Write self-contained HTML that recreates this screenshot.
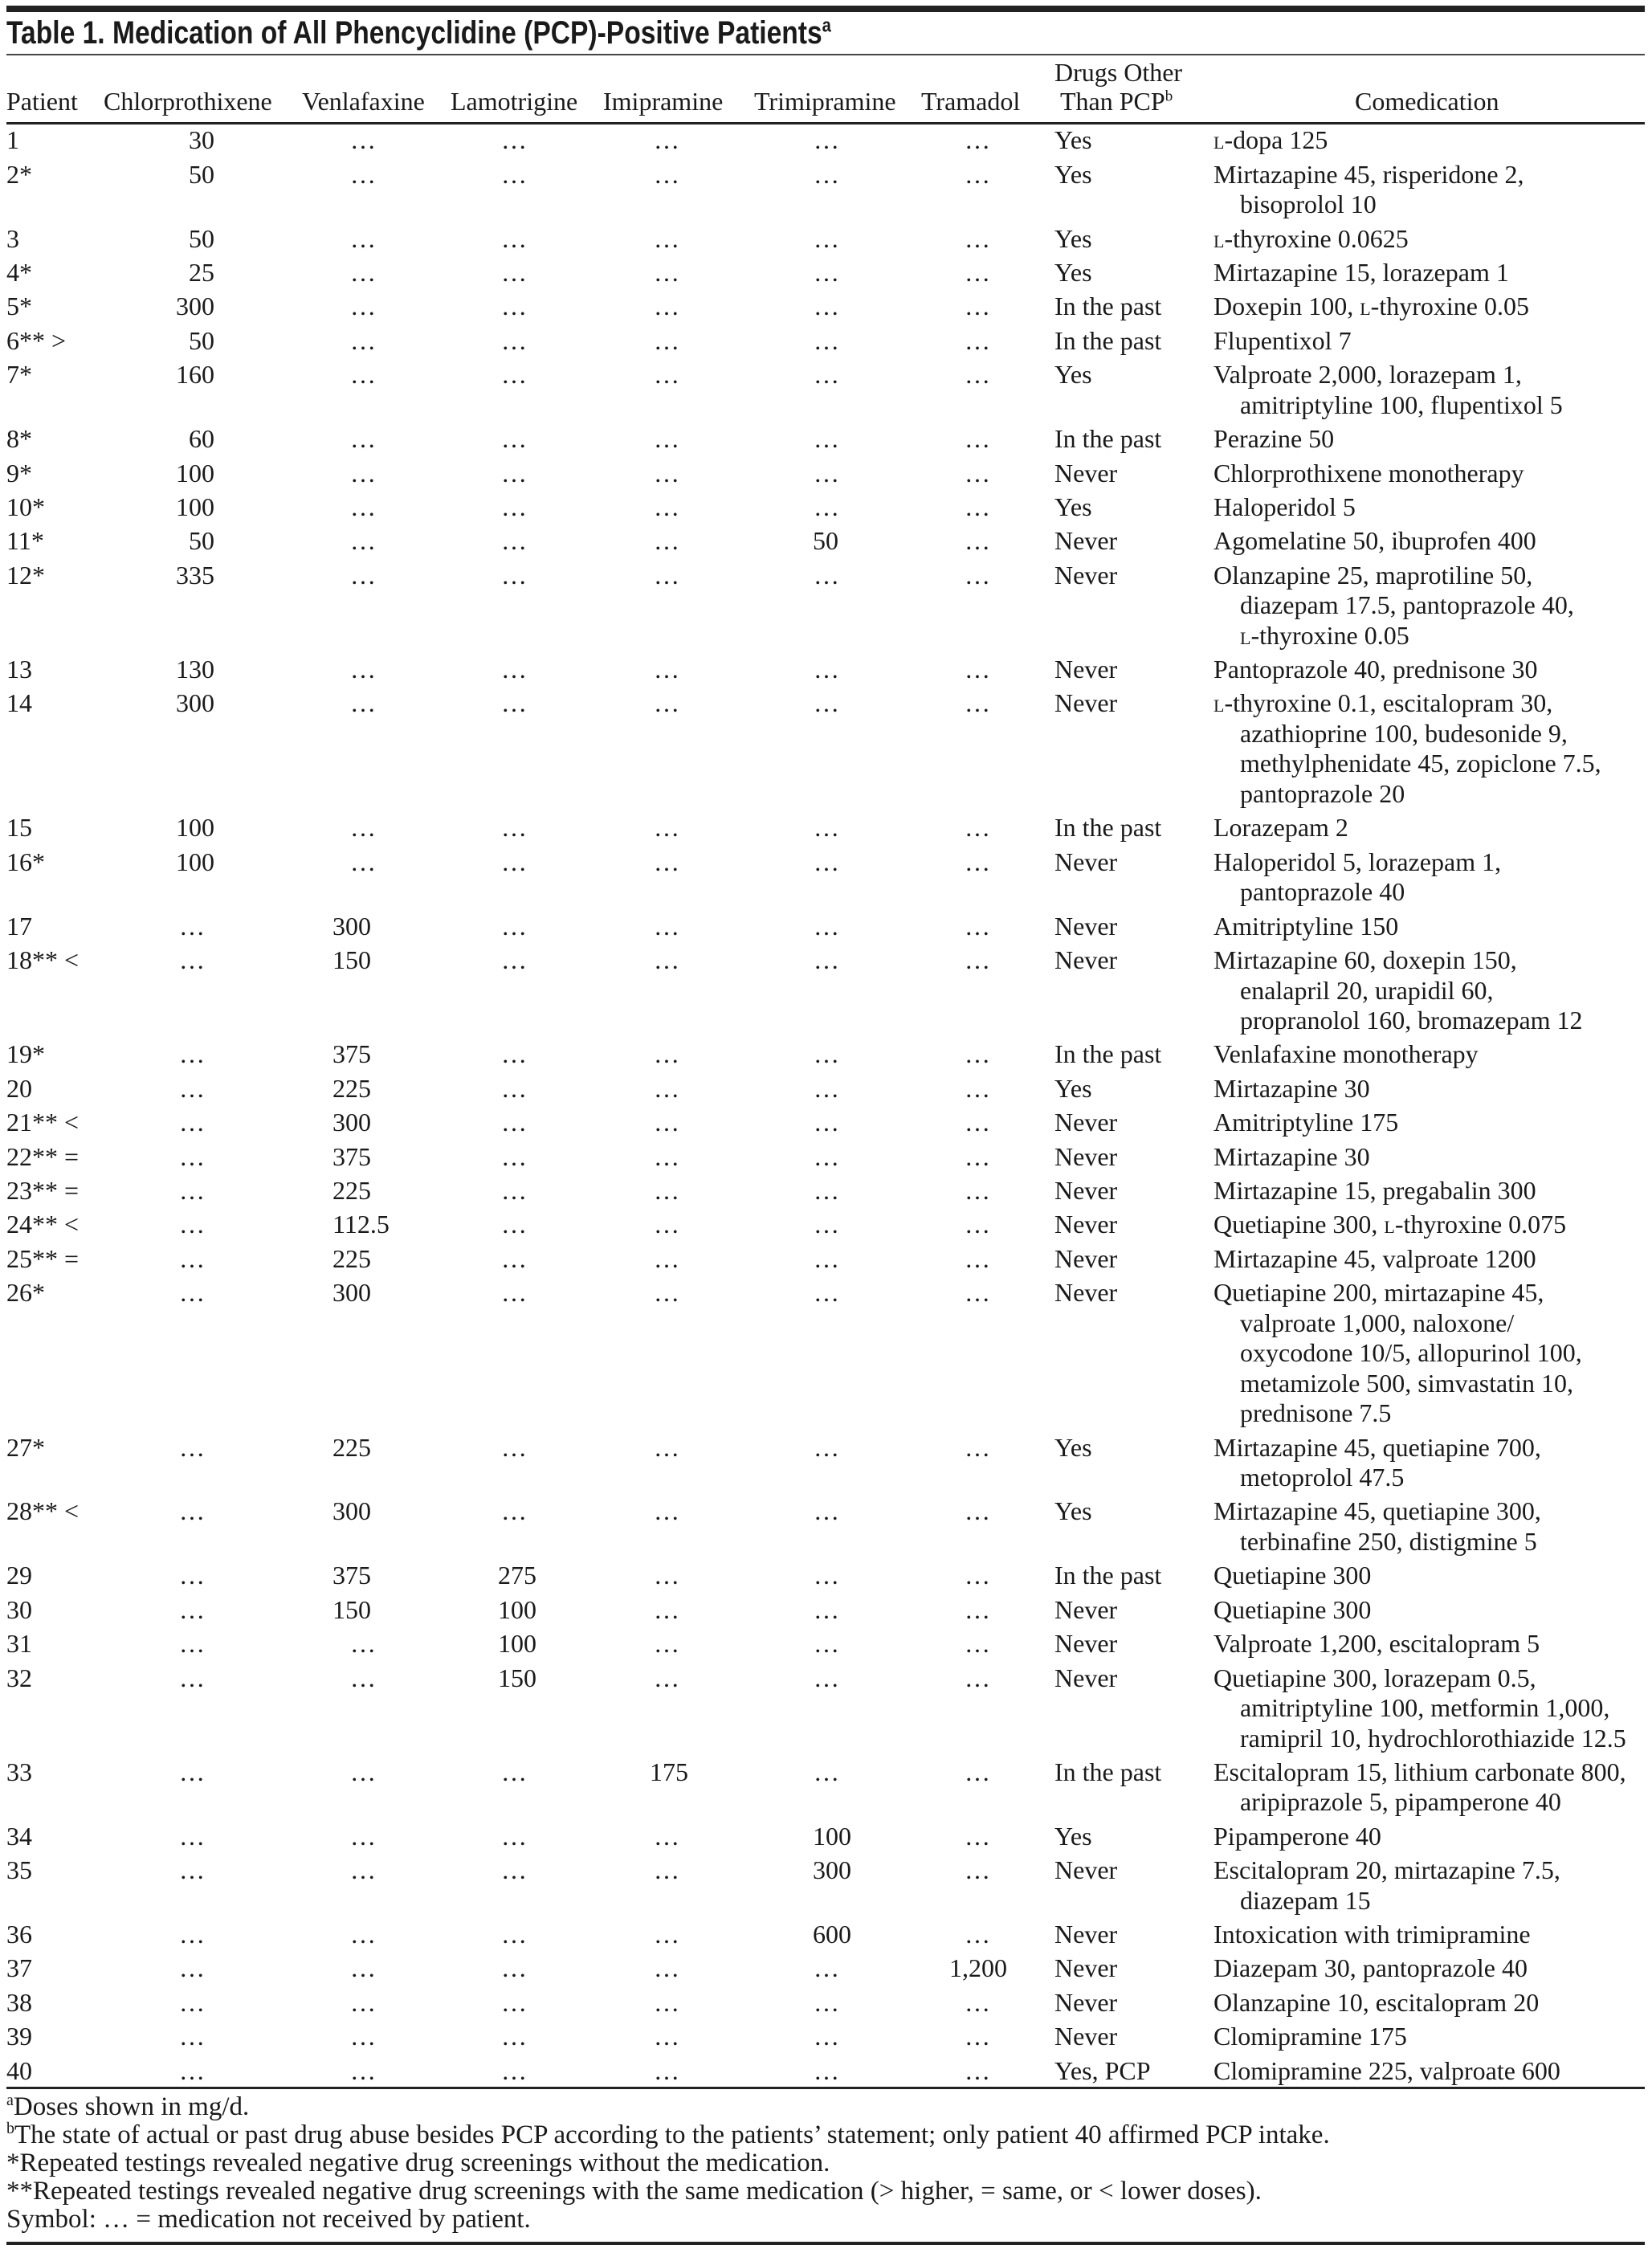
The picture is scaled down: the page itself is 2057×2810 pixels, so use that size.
<!DOCTYPE html>
<html><head><meta charset="utf-8">
<style>
html,body{margin:0;padding:0;background:#fff;}
body{width:2057px;height:2810px;position:relative;overflow:hidden;font-family:"Liberation Serif",serif;color:#1a1a1a;font-size:32px;line-height:37.5px;}
.rule{position:absolute;left:8px;width:2040px;background:#222;}
.title{position:absolute;left:8px;top:21px;font-family:"Liberation Sans",sans-serif;font-weight:bold;font-size:40px;line-height:40px;white-space:nowrap;transform:scaleX(0.84);transform-origin:0 0;}
.title sup{font-size:24px;line-height:0;}
.h{position:absolute;white-space:nowrap;}
#body{position:absolute;left:0;top:156.4px;width:2057px;}
.r{position:relative;padding-bottom:4.9px;}
.r span{position:absolute;top:0;white-space:nowrap;}
.p{left:8px}
.a{left:167px;width:100px;text-align:right}
.ae{left:223px}
.b{left:414px}.be{left:436px}
.c{left:620px}.ce{left:624px}
.d{left:809px}.de{left:814px}
.e{left:1012px}.ee{left:1013px}
.f{left:1154px;width:100px;text-align:right}.fe{left:1201px}
.g{left:1313px}
.m{margin-left:1511px;white-space:nowrap;}
.m div{padding-left:33px}
.sc{font-variant:small-caps}
.fn{position:absolute;left:8px;top:2606px;font-size:33px;line-height:35px;white-space:nowrap;}
.fn sup{font-size:20px;line-height:0;}
</style></head><body>
<div class="rule" style="top:7px;height:8px"></div>
<div class="title">Table 1. Medication of All Phencyclidine (PCP)-Positive Patients<sup>a</sup></div>
<div class="rule" style="top:67px;height:2px;background:#444"></div>
<div class="h" style="left:8px;top:108.4px">Patient</div>
<div class="h" style="left:129px;top:108.4px">Chlorprothixene</div>
<div class="h" style="left:376px;top:108.4px">Venlafaxine</div>
<div class="h" style="left:561px;top:108.4px">Lamotrigine</div>
<div class="h" style="left:751px;top:108.4px">Imipramine</div>
<div class="h" style="left:939px;top:108.4px">Trimipramine</div>
<div class="h" style="left:1147px;top:108.4px">Tramadol</div>
<div class="h" style="left:1313px;top:72.4px">Drugs Other</div>
<div class="h" style="left:1320px;top:108.4px">Than PCP<sup style="font-size:19px;line-height:0">b</sup></div>
<div class="h" style="left:1687px;top:108.4px">Comedication</div>
<div class="rule" style="top:152px;height:3px"></div>
<div id="body">
<div class="r"><span class="p">1</span><span class="a">30</span><span class="be">…</span><span class="ce">…</span><span class="de">…</span><span class="ee">…</span><span class="fe">…</span><span class="g">Yes</span><div class="m"><span class="sc" style="position:static">l</span>-dopa 125</div></div>
<div class="r"><span class="p">2*</span><span class="a">50</span><span class="be">…</span><span class="ce">…</span><span class="de">…</span><span class="ee">…</span><span class="fe">…</span><span class="g">Yes</span><div class="m">Mirtazapine 45, risperidone 2,<div>bisoprolol 10</div></div></div>
<div class="r"><span class="p">3</span><span class="a">50</span><span class="be">…</span><span class="ce">…</span><span class="de">…</span><span class="ee">…</span><span class="fe">…</span><span class="g">Yes</span><div class="m"><span class="sc" style="position:static">l</span>-thyroxine 0.0625</div></div>
<div class="r"><span class="p">4*</span><span class="a">25</span><span class="be">…</span><span class="ce">…</span><span class="de">…</span><span class="ee">…</span><span class="fe">…</span><span class="g">Yes</span><div class="m">Mirtazapine 15, lorazepam 1</div></div>
<div class="r"><span class="p">5*</span><span class="a">300</span><span class="be">…</span><span class="ce">…</span><span class="de">…</span><span class="ee">…</span><span class="fe">…</span><span class="g">In the past</span><div class="m">Doxepin 100, <span class="sc" style="position:static">l</span>-thyroxine 0.05</div></div>
<div class="r"><span class="p">6** &gt;</span><span class="a">50</span><span class="be">…</span><span class="ce">…</span><span class="de">…</span><span class="ee">…</span><span class="fe">…</span><span class="g">In the past</span><div class="m">Flupentixol 7</div></div>
<div class="r"><span class="p">7*</span><span class="a">160</span><span class="be">…</span><span class="ce">…</span><span class="de">…</span><span class="ee">…</span><span class="fe">…</span><span class="g">Yes</span><div class="m">Valproate 2,000, lorazepam 1,<div>amitriptyline 100, flupentixol 5</div></div></div>
<div class="r"><span class="p">8*</span><span class="a">60</span><span class="be">…</span><span class="ce">…</span><span class="de">…</span><span class="ee">…</span><span class="fe">…</span><span class="g">In the past</span><div class="m">Perazine 50</div></div>
<div class="r"><span class="p">9*</span><span class="a">100</span><span class="be">…</span><span class="ce">…</span><span class="de">…</span><span class="ee">…</span><span class="fe">…</span><span class="g">Never</span><div class="m">Chlorprothixene monotherapy</div></div>
<div class="r"><span class="p">10*</span><span class="a">100</span><span class="be">…</span><span class="ce">…</span><span class="de">…</span><span class="ee">…</span><span class="fe">…</span><span class="g">Yes</span><div class="m">Haloperidol 5</div></div>
<div class="r"><span class="p">11*</span><span class="a">50</span><span class="be">…</span><span class="ce">…</span><span class="de">…</span><span class="e">50</span><span class="fe">…</span><span class="g">Never</span><div class="m">Agomelatine 50, ibuprofen 400</div></div>
<div class="r"><span class="p">12*</span><span class="a">335</span><span class="be">…</span><span class="ce">…</span><span class="de">…</span><span class="ee">…</span><span class="fe">…</span><span class="g">Never</span><div class="m">Olanzapine 25, maprotiline 50,<div>diazepam 17.5, pantoprazole 40,</div><div><span class="sc" style="position:static">l</span>-thyroxine 0.05</div></div></div>
<div class="r"><span class="p">13</span><span class="a">130</span><span class="be">…</span><span class="ce">…</span><span class="de">…</span><span class="ee">…</span><span class="fe">…</span><span class="g">Never</span><div class="m">Pantoprazole 40, prednisone 30</div></div>
<div class="r"><span class="p">14</span><span class="a">300</span><span class="be">…</span><span class="ce">…</span><span class="de">…</span><span class="ee">…</span><span class="fe">…</span><span class="g">Never</span><div class="m"><span class="sc" style="position:static">l</span>-thyroxine 0.1, escitalopram 30,<div>azathioprine 100, budesonide 9,</div><div>methylphenidate 45, zopiclone 7.5,</div><div>pantoprazole 20</div></div></div>
<div class="r"><span class="p">15</span><span class="a">100</span><span class="be">…</span><span class="ce">…</span><span class="de">…</span><span class="ee">…</span><span class="fe">…</span><span class="g">In the past</span><div class="m">Lorazepam 2</div></div>
<div class="r"><span class="p">16*</span><span class="a">100</span><span class="be">…</span><span class="ce">…</span><span class="de">…</span><span class="ee">…</span><span class="fe">…</span><span class="g">Never</span><div class="m">Haloperidol 5, lorazepam 1,<div>pantoprazole 40</div></div></div>
<div class="r"><span class="p">17</span><span class="ae">…</span><span class="b">300</span><span class="ce">…</span><span class="de">…</span><span class="ee">…</span><span class="fe">…</span><span class="g">Never</span><div class="m">Amitriptyline 150</div></div>
<div class="r"><span class="p">18** &lt;</span><span class="ae">…</span><span class="b">150</span><span class="ce">…</span><span class="de">…</span><span class="ee">…</span><span class="fe">…</span><span class="g">Never</span><div class="m">Mirtazapine 60, doxepin 150,<div>enalapril 20, urapidil 60,</div><div>propranolol 160, bromazepam 12</div></div></div>
<div class="r"><span class="p">19*</span><span class="ae">…</span><span class="b">375</span><span class="ce">…</span><span class="de">…</span><span class="ee">…</span><span class="fe">…</span><span class="g">In the past</span><div class="m">Venlafaxine monotherapy</div></div>
<div class="r"><span class="p">20</span><span class="ae">…</span><span class="b">225</span><span class="ce">…</span><span class="de">…</span><span class="ee">…</span><span class="fe">…</span><span class="g">Yes</span><div class="m">Mirtazapine 30</div></div>
<div class="r"><span class="p">21** &lt;</span><span class="ae">…</span><span class="b">300</span><span class="ce">…</span><span class="de">…</span><span class="ee">…</span><span class="fe">…</span><span class="g">Never</span><div class="m">Amitriptyline 175</div></div>
<div class="r"><span class="p">22** =</span><span class="ae">…</span><span class="b">375</span><span class="ce">…</span><span class="de">…</span><span class="ee">…</span><span class="fe">…</span><span class="g">Never</span><div class="m">Mirtazapine 30</div></div>
<div class="r"><span class="p">23** =</span><span class="ae">…</span><span class="b">225</span><span class="ce">…</span><span class="de">…</span><span class="ee">…</span><span class="fe">…</span><span class="g">Never</span><div class="m">Mirtazapine 15, pregabalin 300</div></div>
<div class="r"><span class="p">24** &lt;</span><span class="ae">…</span><span class="b">112.5</span><span class="ce">…</span><span class="de">…</span><span class="ee">…</span><span class="fe">…</span><span class="g">Never</span><div class="m">Quetiapine 300, <span class="sc" style="position:static">l</span>-thyroxine 0.075</div></div>
<div class="r"><span class="p">25** =</span><span class="ae">…</span><span class="b">225</span><span class="ce">…</span><span class="de">…</span><span class="ee">…</span><span class="fe">…</span><span class="g">Never</span><div class="m">Mirtazapine 45, valproate 1200</div></div>
<div class="r"><span class="p">26*</span><span class="ae">…</span><span class="b">300</span><span class="ce">…</span><span class="de">…</span><span class="ee">…</span><span class="fe">…</span><span class="g">Never</span><div class="m">Quetiapine 200, mirtazapine 45,<div>valproate 1,000, naloxone/</div><div>oxycodone 10/5, allopurinol 100,</div><div>metamizole 500, simvastatin 10,</div><div>prednisone 7.5</div></div></div>
<div class="r"><span class="p">27*</span><span class="ae">…</span><span class="b">225</span><span class="ce">…</span><span class="de">…</span><span class="ee">…</span><span class="fe">…</span><span class="g">Yes</span><div class="m">Mirtazapine 45, quetiapine 700,<div>metoprolol 47.5</div></div></div>
<div class="r"><span class="p">28** &lt;</span><span class="ae">…</span><span class="b">300</span><span class="ce">…</span><span class="de">…</span><span class="ee">…</span><span class="fe">…</span><span class="g">Yes</span><div class="m">Mirtazapine 45, quetiapine 300,<div>terbinafine 250, distigmine 5</div></div></div>
<div class="r"><span class="p">29</span><span class="ae">…</span><span class="b">375</span><span class="c">275</span><span class="de">…</span><span class="ee">…</span><span class="fe">…</span><span class="g">In the past</span><div class="m">Quetiapine 300</div></div>
<div class="r"><span class="p">30</span><span class="ae">…</span><span class="b">150</span><span class="c">100</span><span class="de">…</span><span class="ee">…</span><span class="fe">…</span><span class="g">Never</span><div class="m">Quetiapine 300</div></div>
<div class="r"><span class="p">31</span><span class="ae">…</span><span class="be">…</span><span class="c">100</span><span class="de">…</span><span class="ee">…</span><span class="fe">…</span><span class="g">Never</span><div class="m">Valproate 1,200, escitalopram 5</div></div>
<div class="r"><span class="p">32</span><span class="ae">…</span><span class="be">…</span><span class="c">150</span><span class="de">…</span><span class="ee">…</span><span class="fe">…</span><span class="g">Never</span><div class="m">Quetiapine 300, lorazepam 0.5,<div>amitriptyline 100, metformin 1,000,</div><div>ramipril 10, hydrochlorothiazide 12.5</div></div></div>
<div class="r"><span class="p">33</span><span class="ae">…</span><span class="be">…</span><span class="ce">…</span><span class="d">175</span><span class="ee">…</span><span class="fe">…</span><span class="g">In the past</span><div class="m">Escitalopram 15, lithium carbonate 800,<div>aripiprazole 5, pipamperone 40</div></div></div>
<div class="r"><span class="p">34</span><span class="ae">…</span><span class="be">…</span><span class="ce">…</span><span class="de">…</span><span class="e">100</span><span class="fe">…</span><span class="g">Yes</span><div class="m">Pipamperone 40</div></div>
<div class="r"><span class="p">35</span><span class="ae">…</span><span class="be">…</span><span class="ce">…</span><span class="de">…</span><span class="e">300</span><span class="fe">…</span><span class="g">Never</span><div class="m">Escitalopram 20, mirtazapine 7.5,<div>diazepam 15</div></div></div>
<div class="r"><span class="p">36</span><span class="ae">…</span><span class="be">…</span><span class="ce">…</span><span class="de">…</span><span class="e">600</span><span class="fe">…</span><span class="g">Never</span><div class="m">Intoxication with trimipramine</div></div>
<div class="r"><span class="p">37</span><span class="ae">…</span><span class="be">…</span><span class="ce">…</span><span class="de">…</span><span class="ee">…</span><span class="f">1,200</span><span class="g">Never</span><div class="m">Diazepam 30, pantoprazole 40</div></div>
<div class="r"><span class="p">38</span><span class="ae">…</span><span class="be">…</span><span class="ce">…</span><span class="de">…</span><span class="ee">…</span><span class="fe">…</span><span class="g">Never</span><div class="m">Olanzapine 10, escitalopram 20</div></div>
<div class="r"><span class="p">39</span><span class="ae">…</span><span class="be">…</span><span class="ce">…</span><span class="de">…</span><span class="ee">…</span><span class="fe">…</span><span class="g">Never</span><div class="m">Clomipramine 175</div></div>
<div class="r"><span class="p">40</span><span class="ae">…</span><span class="be">…</span><span class="ce">…</span><span class="de">…</span><span class="ee">…</span><span class="fe">…</span><span class="g">Yes, PCP</span><div class="m">Clomipramine 225, valproate 600</div></div>
</div>
<div class="rule" style="top:2598px;height:3px"></div>
<div class="fn">
<div><sup>a</sup>Doses shown in mg/d.</div>
<div><sup>b</sup>The state of actual or past drug abuse besides PCP according to the patients’ statement; only patient 40 affirmed PCP intake.</div>
<div>*Repeated testings revealed negative drug screenings without the medication.</div>
<div>**Repeated testings revealed negative drug screenings with the same medication (&gt; higher, = same, or &lt; lower doses).</div>
<div>Symbol: … = medication not received by patient.</div>
</div>
<div class="rule" style="top:2791px;height:4px"></div>
</body></html>
